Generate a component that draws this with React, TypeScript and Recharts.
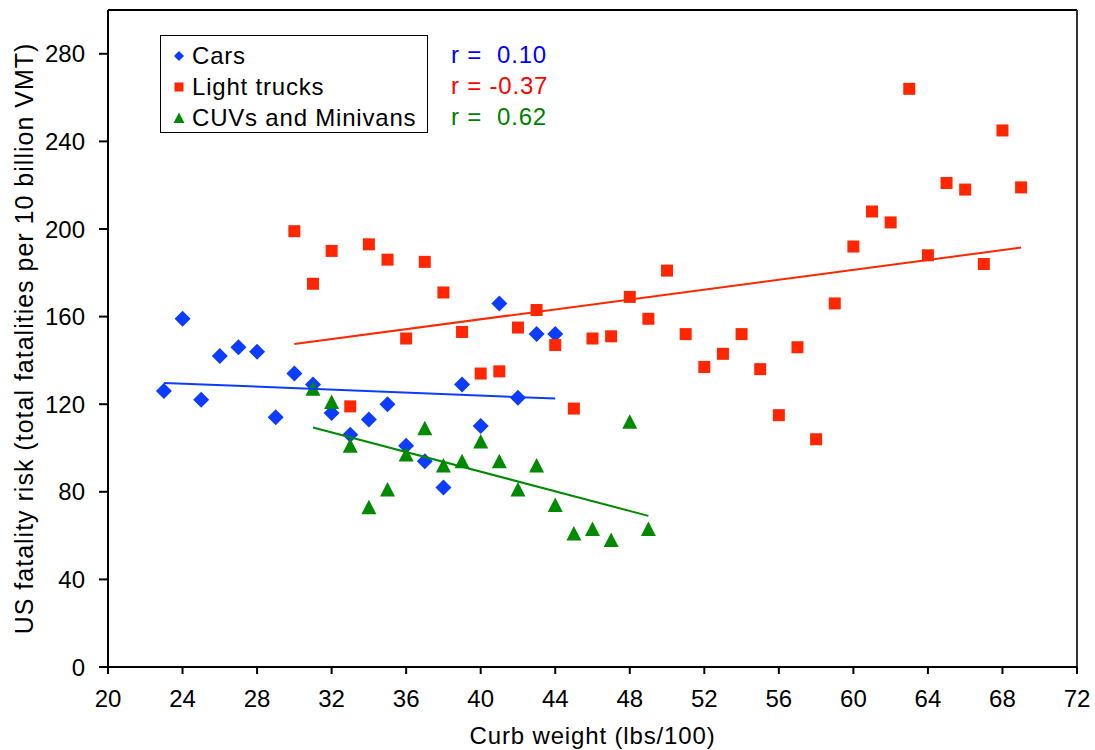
import { ScatterChart, Scatter, XAxis, YAxis, Legend, ReferenceLine } from 'recharts'

const FONT = '"Liberation Sans", Arial, Helvetica, sans-serif'

// curb weight (lbs/100) and fatality risk per series
const carWeights = [23, 24, 25, 26, 27, 28, 29, 30, 31, 32, 33, 34, 35, 36, 37, 38, 39, 40, 41, 42, 43, 44]
const carRisk = [126, 159, 122, 142, 146, 144, 114, 134, 129, 116, 106, 113, 120, 101, 94, 82, 129, 110, 166, 123, 152, 152]

const truckWeights = [30, 31, 32, 33, 34, 35, 36, 37, 38, 39, 40, 41, 42, 43, 44, 45, 46, 47, 48, 49,
  50, 51, 52, 53, 54, 55, 56, 57, 58, 59, 60, 61, 62, 63, 64, 65, 66, 67, 68, 69]
const truckRisk = [199, 175, 190, 119, 193, 186, 150, 185, 171, 153, 134, 135, 155, 163, 147, 118, 150, 151, 169, 159,
  181, 152, 137, 143, 152, 136, 115, 146, 104, 166, 192, 208, 203, 264, 188, 221, 218, 184, 245, 219]

const cuvWeights = [31, 32, 33, 34, 35, 36, 37, 38, 39, 40, 41, 42, 43, 44, 45, 46, 47, 48, 49]
const cuvRisk = [127, 121, 101, 73, 81, 97, 109, 92, 94, 103, 94, 81, 92, 74, 61, 63, 58, 112, 63]

// fitted trend lines, start and end points
const carTrendX = [23, 44]
const carTrendY = [129.7, 122.6]
const truckTrendX = [30, 69]
const truckTrendY = [147.5, 191.5]
const cuvTrendX = [31, 49]
const cuvTrendY = [109.4, 69]

const seriesNames = ['Cars', 'Light trucks', 'CUVs and Minivans']
const rValues = ['0.10', '-0.37', '0.62']

const xTicks = [20, 24, 28, 32, 36, 40, 44, 48, 52, 56, 60, 64, 68, 72]
const yTicks = [0, 40, 80, 120, 160, 200, 240, 280]

const BLUE = '#0b3cff'
const RED = '#ff2600'
const GREEN = '#008a00'
const rColors = ['#0000ff', '#ff0000', '#008000']

const zip = (xs: number[], ys: number[]) => xs.map((x, i) => ({ x, y: ys[i] }))

const cars = zip(carWeights, carRisk)
const trucks = zip(truckWeights, truckRisk)
const cuvs = zip(cuvWeights, cuvRisk)

const Diamond = (p: any) => (
  <polygon points={`${p.cx},${p.cy - 8} ${p.cx + 8},${p.cy} ${p.cx},${p.cy + 8} ${p.cx - 8},${p.cy}`} fill={BLUE} />
)
const Square = (p: any) => <rect x={p.cx - 6} y={p.cy - 6} width={12} height={12} fill={RED} />
const Triangle = (p: any) => (
  <polygon points={`${p.cx},${p.cy - 7.5} ${p.cx + 7.5},${p.cy + 7} ${p.cx - 7.5},${p.cy + 7}`} fill={GREEN} />
)
const Nothing = () => <g />

function legendIcon(i: number) {
  if (i === 0) return <polygon points="6,1 11,6 6,11 1,6" fill={BLUE} />
  if (i === 1) return <rect x={1.5} y={1.5} width={9} height={9} fill={RED} />
  return <polygon points="6,0.5 11.5,11 0.5,11" fill={GREEN} />
}

function LegendBox() {
  return (
    <div style={{ position: 'relative', fontFamily: FONT, fontSize: 24, letterSpacing: 0.8, color: '#000' }}>
      <div style={{ width: 266, height: 96, border: '1.5px solid #000', background: '#fff', position: 'relative' }}>
        {seriesNames.map((name, i) => (
          <div key={name} style={{ position: 'absolute', left: 12, top: 6 + i * 31, height: 28, display: 'flex', alignItems: 'center', whiteSpace: 'nowrap' }}>
            <svg width={12} height={12} style={{ marginRight: 7 }}>{legendIcon(i)}</svg>
            <span>{name}</span>
          </div>
        ))}
      </div>
      {rValues.map((r, i) => (
        <div key={r} style={{ position: 'absolute', left: 291, top: 6 + i * 31, height: 28, lineHeight: '28px', color: rColors[i], whiteSpace: 'pre' }}>
          {`r = ${r.startsWith('-') ? '' : ' '}${r}`}
        </div>
      ))}
    </div>
  )
}

function YTitle(props: any) {
  const vb = props.viewBox
  const cx = vb.x - 24
  const cy = vb.y + vb.height / 2
  return (
    <text x={cx} y={cy} transform={`rotate(-90, ${cx}, ${cy})`} textAnchor="middle" dominantBaseline="central"
      fontFamily={FONT} fontSize={25} letterSpacing={1} fill="#000">
      US fatality risk (total fatalities per 10 billion VMT)
    </text>
  )
}

export default function App() {
  const tick = { fill: '#000', fontSize: 24, fontFamily: FONT }
  return (
    <div style={{ position: 'absolute', left: 0, top: 0, background: '#fff' }}>
      <ScatterChart width={1095} height={750} margin={{ top: 10, right: 18, left: 48, bottom: 33 }}>
        <XAxis
          type="number"
          dataKey="x"
          domain={[20, 72]}
          ticks={xTicks}
          interval={0}
          height={50}
          tick={tick}
          tickSize={7}
          tickMargin={16}
          axisLine={{ stroke: '#000', strokeWidth: 2 }}
          tickLine={{ stroke: '#000', strokeWidth: 2 }}
          label={{ value: 'Curb weight (lbs/100)', position: 'bottom', offset: 10, fill: '#000', fontSize: 24, fontFamily: FONT, letterSpacing: 0.85 }}
        />
        <YAxis
          type="number"
          dataKey="y"
          domain={[0, 300]}
          ticks={yTicks}
          interval={0}
          width={60}
          tick={tick}
          tickSize={9}
          tickMargin={14}
          axisLine={{ stroke: '#000', strokeWidth: 2 }}
          tickLine={{ stroke: '#000', strokeWidth: 2 }}
          label={<YTitle />}
        />
        <ReferenceLine y={300} stroke="#000" strokeWidth={2} />
        <ReferenceLine x={72} stroke="#333" strokeWidth={2} />
        <Legend
          layout="vertical"
          align="center"
          verticalAlign="middle"
          wrapperStyle={{ left: 160, top: 35, width: 420 }}
          content={() => <LegendBox />}
        />
        <Scatter name="Cars" data={cars} shape={Diamond} isAnimationActive={false} />
        <Scatter name="Light trucks" data={trucks} shape={Square} isAnimationActive={false} />
        <Scatter name="CUVs and Minivans" data={cuvs} shape={Triangle} isAnimationActive={false} />
        <Scatter data={zip(carTrendX, carTrendY)} line={{ stroke: BLUE, strokeWidth: 2 }} shape={Nothing} legendType="none" isAnimationActive={false} />
        <Scatter data={zip(truckTrendX, truckTrendY)} line={{ stroke: RED, strokeWidth: 2 }} shape={Nothing} legendType="none" isAnimationActive={false} />
        <Scatter data={zip(cuvTrendX, cuvTrendY)} line={{ stroke: GREEN, strokeWidth: 2 }} shape={Nothing} legendType="none" isAnimationActive={false} />
      </ScatterChart>
    </div>
  )
}
